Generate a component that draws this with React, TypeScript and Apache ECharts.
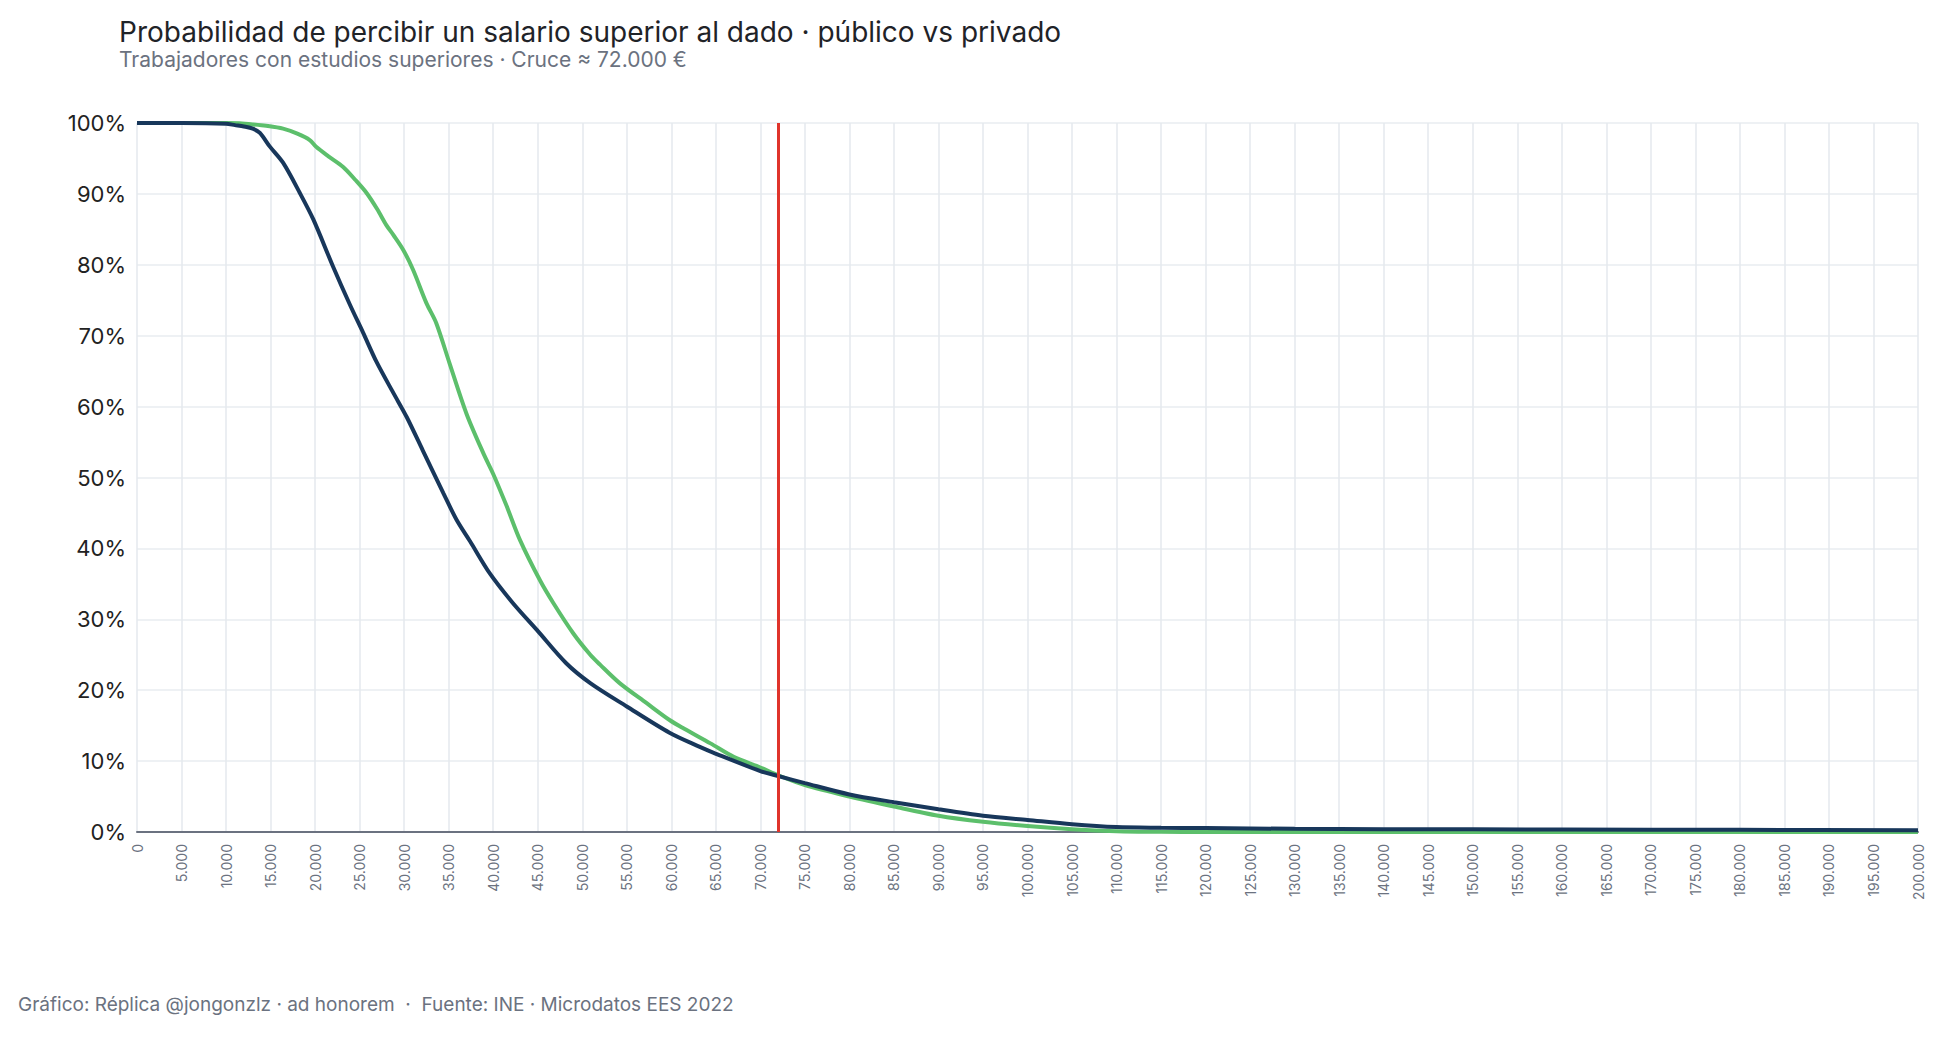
import React, { useEffect, useRef } from "react";
import * as echarts from "echarts";

// Salario (€) y probabilidad (%) de percibir un salario superior — sector público (verde)
const salariosPublico = [
  0, 10000, 11500, 13000, 14500, 16400, 18000, 19400, 20150, 21500, 23150, 24500, 25800, 27000,
  28000, 28800, 29900, 31000, 32500, 33600, 35100, 37000, 38900, 40000, 41500, 43000, 45250,
  46750, 49000, 50900, 52000, 54200, 57200, 59800, 61400, 64400, 67000, 70000, 72000, 75000,
  80000, 85000, 90000, 95000, 100000, 105000, 110000, 115000, 120000, 200000,
];
const probPublico = [
  100, 100, 99.95, 99.8, 99.6, 99.2, 98.5, 97.6, 96.6, 95.3, 93.8, 92.0, 90.1, 87.8,
  85.6, 84.2, 82.1, 79.3, 74.6, 71.8, 66.1, 59.0, 53.4, 50.5, 46.0, 41.2, 35.5,
  32.3, 28.0, 25.0, 23.6, 21.0, 18.2, 15.8, 14.6, 12.5, 10.6, 9.1, 8.0, 6.6,
  5.0, 3.6, 2.3, 1.45, 0.85, 0.4, 0.12, 0.03, 0.01, 0,
];

// Sector privado (azul marino)
const salariosPrivado = [
  0, 5000, 10000, 11000, 12000, 13000, 13800, 14900, 16400, 18300, 19800, 22000, 23900, 25400,
  26900, 28800, 30300, 32100, 34400, 35900, 37400, 39600, 42200, 44900, 48200, 50900, 55000,
  59800, 63200, 64700, 70000, 72000, 75000, 80000, 85000, 90000, 95000, 100000, 105000, 110000,
  115000, 120000, 130000, 140000, 160000, 180000, 200000,
];
const probPrivado = [
  100, 100, 99.9, 99.7, 99.5, 99.2, 98.6, 96.7, 94.4, 90.1, 86.4, 79.8, 74.4, 70.4,
  66.3, 61.9, 58.5, 53.8, 47.8, 44.0, 41.0, 36.5, 32.3, 28.5, 23.8, 21.0, 17.7,
  14.0, 12.0, 11.2, 8.6, 7.9, 6.9, 5.3, 4.2, 3.2, 2.3, 1.7, 1.1, 0.7,
  0.6, 0.55, 0.45, 0.4, 0.35, 0.3, 0.25,
];

const cruce = 72000;

const titulo = "Probabilidad de percibir un salario superior al dado · público vs privado";
const subtitulo = "Trabajadores con estudios superiores · Cruce ≈ 72.000 €";
const pie = "Gráfico: Réplica @jongonzlz · ad honorem  ·  Fuente: INE · Microdatos EES 2022";

const FONT = "Inter, 'Liberation Sans', Arial, sans-serif";

function fmtMiles(v: number): string {
  return String(v).replace(/\B(?=(\d{3})+(?!\d))/g, ".");
}

export default function App() {
  const ref = useRef<HTMLDivElement>(null);
  useEffect(() => {
    if (!ref.current) return;
    const chart = echarts.init(ref.current, undefined, { renderer: "svg" });
    const pub = salariosPublico.map((x, i) => [x, probPublico[i]]);
    const priv = salariosPrivado.map((x, i) => [x, probPrivado[i]]);
    chart.setOption({
      animation: false,
      backgroundColor: "#ffffff",
      textStyle: { fontFamily: FONT },
      title: {
        text: titulo,
        subtext: subtitulo,
        left: 114,
        top: 13,
        itemGap: 3,
        textStyle: { fontFamily: FONT, fontSize: 28, fontWeight: "normal", color: "#1f2328" },
        subtextStyle: { fontFamily: FONT, fontSize: 21, color: "#6b7280" },
      },
      grid: { left: 137, right: 26, top: 123, bottom: 205, containLabel: false },
      xAxis: {
        type: "value",
        min: 0,
        max: 200000,
        interval: 5000,
        axisLine: { show: true, lineStyle: { color: "#6b7280", width: 2 } },
        axisTick: { show: false },
        axisLabel: {
          rotate: 90,
          margin: 12,
          color: "#6b7280",
          fontSize: 14,
          fontFamily: FONT,
          formatter: (v: number) => fmtMiles(v),
        },
        splitLine: { show: true, lineStyle: { color: "#e5e8ee", width: 1.5 } },
      },
      yAxis: {
        type: "value",
        min: 0,
        max: 100,
        interval: 10,
        axisLine: { show: false },
        axisTick: { show: false },
        axisLabel: {
          margin: 11,
          color: "#222222",
          fontSize: 22,
          fontFamily: FONT,
          formatter: "{value}%",
        },
        splitLine: { show: true, lineStyle: { color: "#e9ecf1", width: 1.5 } },
      },
      series: [
        {
          name: "Público",
          type: "line",
          data: pub,
          showSymbol: false,
          smooth: 0.3,
          lineStyle: { color: "#5cbf6b", width: 4 },
          itemStyle: { color: "#5cbf6b" },
          z: 2,
        },
        {
          name: "Privado",
          type: "line",
          data: priv,
          showSymbol: false,
          smooth: 0.3,
          lineStyle: { color: "#18375b", width: 4 },
          itemStyle: { color: "#18375b" },
          z: 3,
          markLine: {
            silent: true,
            symbol: "none",
            label: { show: false },
            lineStyle: { color: "#e0342b", width: 3, type: "solid" },
            data: [{ xAxis: cruce }],
          },
        },
      ],
      graphic: [
        {
          type: "text",
          left: 18,
          top: 995,
          style: { text: pie, fontSize: 19, fontFamily: FONT, fill: "#6b7280" },
        },
      ],
    });
    return () => chart.dispose();
  }, []);
  return (
    <div
      ref={ref}
      style={{ position: "fixed", left: 0, top: 0, width: 1944, height: 1037, background: "#fff" }}
    />
  );
}
